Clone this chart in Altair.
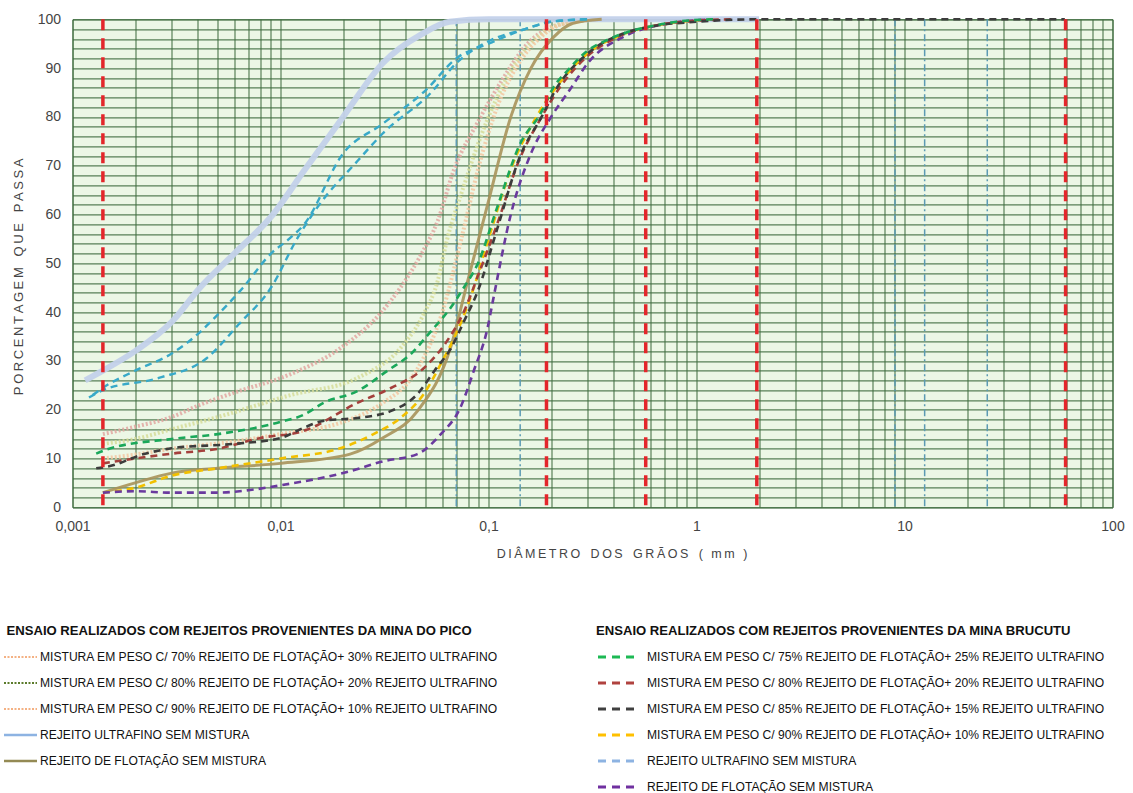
import altair as alt
import pandas as pd

W, H = 1040, 488  # plot area (px)

# ---------------------------------------------------------------------------
# Grain-size curves: diameter (mm) and percentage passing (%)
# ---------------------------------------------------------------------------
# Mina do Pico
pico_70_d = [0.0014, 0.002, 0.003, 0.0041, 0.006, 0.0112, 0.0194, 0.03, 0.0377, 0.047,
             0.057, 0.068, 0.089, 0.118, 0.154, 0.2, 0.25, 0.35]
pico_70_p = [15, 16.5, 18.5, 21, 23.5, 27.3, 32.6, 39.6, 45, 51.5, 58.7, 69, 79, 88, 95,
             98.4, 99.4, 100]

pico_80_d = [0.0014, 0.002, 0.003, 0.005, 0.0112, 0.0234, 0.0377, 0.0488, 0.057, 0.063,
             0.075, 0.09, 0.11, 0.14, 0.18, 0.25, 0.35]
pico_80_p = [13, 14, 16, 18.5, 23, 26.5, 32.6, 39.6, 46.4, 54.6, 65, 75, 84, 92, 97, 99.5, 100]

pico_90_d = [0.0014, 0.002, 0.003, 0.006, 0.01, 0.02, 0.03, 0.045, 0.06, 0.075, 0.09, 0.11,
             0.14, 0.18, 0.25, 0.35]
pico_90_p = [10, 10.8, 12, 13.5, 15, 17.5, 21, 28, 40, 56, 70, 82, 91, 96.5, 99.5, 100]

pico_ultra_d = [0.00115, 0.0014, 0.002, 0.003, 0.0041, 0.006, 0.0092, 0.013, 0.02, 0.031,
                0.048, 0.065, 0.1, 0.3, 2.0]
pico_ultra_p = [26, 28, 32, 38, 45, 52, 60, 69, 80, 91, 97, 99.5, 100, 100, 100]

pico_flot_d = [0.0014, 0.002, 0.003, 0.005, 0.01, 0.0216, 0.031, 0.0455, 0.066, 0.079,
               0.099, 0.128, 0.16, 0.205, 0.255, 0.35]
pico_flot_p = [3, 5, 7, 8, 9, 10.9, 14.2, 19.7, 33, 46, 62, 80, 90, 96.3, 99.2, 100]

# Mina Brucutu
bru_75_d = [0.0013, 0.0015, 0.003, 0.005, 0.01, 0.013, 0.0161, 0.0234, 0.0327, 0.0423,
            0.0527, 0.066, 0.076, 0.089, 0.11, 0.142, 0.178, 0.205, 0.24, 0.3, 0.37, 0.46,
            0.58, 0.8, 1.2]
bru_75_p = [11, 12, 14, 15, 17.5, 19, 21.4, 23.8, 28, 31.4, 36, 41, 45, 50, 61.4, 74.5,
            80.7, 86, 89.5, 93.6, 95.7, 97.3, 98.4, 99.5, 100]

bru_80_d = [0.0014, 0.002, 0.003, 0.005, 0.008, 0.0128, 0.0234, 0.0338, 0.0488, 0.063,
            0.076, 0.09, 0.11, 0.14, 0.18, 0.22, 0.3, 0.4, 0.6, 1.0, 1.5]
bru_80_p = [9, 10, 11, 12, 14.2, 15.6, 21.4, 24.4, 28.5, 34, 40, 48, 58, 71, 80, 86, 92.5,
            96, 98.5, 99.7, 100]

bru_85_d = [0.0013, 0.0015, 0.0022, 0.003, 0.006, 0.01, 0.0128, 0.016, 0.0234, 0.0338,
            0.0455, 0.055, 0.066, 0.076, 0.089, 0.11, 0.142, 0.18, 0.21, 0.3, 0.46, 0.6,
            1.0, 2.0, 59.0]
bru_85_p = [8, 8.4, 10.9, 12.1, 13, 14.2, 16.2, 17.7, 18.3, 19.7, 23.2, 28, 32.6, 38, 44.4,
            57, 72, 80, 85.5, 93, 97.3, 98.5, 99.5, 100, 100]

bru_90_d = [0.0014, 0.002, 0.003, 0.005, 0.01, 0.0194, 0.028, 0.0377, 0.0488, 0.06, 0.072,
            0.085, 0.1, 0.13, 0.17, 0.22, 0.3, 0.45, 0.7, 1.2]
bru_90_p = [3, 4, 6.5, 8, 10, 12.1, 15, 18.3, 23.2, 30, 36.8, 45, 55, 70, 80, 87, 93, 97,
            99, 100]

bru_ultra_a_d = [0.00125, 0.0014, 0.002, 0.003, 0.004, 0.005, 0.0066, 0.009, 0.011, 0.013,
                 0.02, 0.031, 0.05, 0.07, 0.1, 0.15, 0.2, 0.3]
bru_ultra_a_p = [23, 24.5, 28, 31.5, 35.5, 39.5, 45, 52, 55, 58, 72.5, 78.6, 85.5, 92, 95,
                 98, 99.5, 100]

bru_ultra_b_d = [0.0012, 0.0014, 0.0026, 0.0044, 0.0063, 0.009, 0.012, 0.015, 0.0235,
                 0.031, 0.053, 0.07, 0.1, 0.15, 0.2, 0.3]
bru_ultra_b_p = [22.5, 24, 26.5, 30.5, 37.5, 45, 55, 61.4, 71, 76.6, 85, 91, 95.5, 98,
                 99.5, 100]

bru_flot_d = [0.0014, 0.002, 0.003, 0.005, 0.007, 0.01, 0.0216, 0.031, 0.0455, 0.059,
              0.073, 0.085, 0.099, 0.105, 0.128, 0.16, 0.2, 0.25, 0.3, 0.45, 0.7, 1.2]
bru_flot_p = [3, 3.3, 3, 3, 3.5, 4.5, 7.4, 9.4, 10.9, 15, 20.3, 28, 36.8, 42.3, 60, 72.5,
              80, 86, 91, 96.5, 99, 100]

# Vertical reference diameters (mm)
class_limits_mm = [0.0014, 0.19, 0.57, 1.95, 59.5]
sieve_lines_mm = [0.07, 0.142, 9.0, 12.5, 25.0]

# Axis ticks
decades = [0.001, 0.01, 0.1, 1.0, 10.0, 100.0]
decade_labels = ["0,001", "0,01", "0,1", "1", "10", "100"]
y_ticks = list(range(0, 101, 2))

# Axis titles (word lists)
x_title_words = ["DIÂMETRO", "DOS", "GRÃOS", "( mm )"]
y_title_words = ["PORCENTAGEM", "QUE", "PASSA"]

# Legend text
pico_title = "ENSAIO REALIZADOS COM REJEITOS PROVENIENTES DA MINA DO PICO"
pico_items = [
    "MISTURA EM PESO C/ 70% REJEITO DE FLOTAÇÃO+ 30% REJEITO ULTRAFINO",
    "MISTURA EM PESO C/ 80% REJEITO DE FLOTAÇÃO+ 20% REJEITO ULTRAFINO",
    "MISTURA EM PESO C/ 90% REJEITO DE FLOTAÇÃO+ 10% REJEITO ULTRAFINO",
    "REJEITO ULTRAFINO SEM MISTURA",
    "REJEITO DE FLOTAÇÃO SEM MISTURA",
]
bru_title = "ENSAIO REALIZADOS COM REJEITOS PROVENIENTES DA MINA BRUCUTU"
bru_items = [
    "MISTURA EM PESO C/ 75% REJEITO DE FLOTAÇÃO+ 25% REJEITO ULTRAFINO",
    "MISTURA EM PESO C/ 80% REJEITO DE FLOTAÇÃO+ 20% REJEITO ULTRAFINO",
    "MISTURA EM PESO C/ 85% REJEITO DE FLOTAÇÃO+ 15% REJEITO ULTRAFINO",
    "MISTURA EM PESO C/ 90% REJEITO DE FLOTAÇÃO+ 10% REJEITO ULTRAFINO",
    "REJEITO ULTRAFINO SEM MISTURA",
    "REJEITO DE FLOTAÇÃO SEM MISTURA",
]

# ---------------------------------------------------------------------------
# Styles
# ---------------------------------------------------------------------------
DOT = [2, 2]
DASH = [7, 5]
curves = [
    (pico_70_d, pico_70_p, dict(color="#e2a7a1", dash=DOT, width=4, opacity=0.85)),
    (pico_80_d, pico_80_p, dict(color="#d6dc98", dash=DOT, width=4, opacity=0.85)),
    (pico_90_d, pico_90_p, dict(color="#f3c6a0", dash=DOT, width=4, opacity=0.85)),
    (pico_ultra_d, pico_ultra_p, dict(color="#c3d1ea", dash=None, width=6, opacity=0.95)),
    (pico_flot_d, pico_flot_p, dict(color="#a8925a", dash=None, width=3, opacity=0.9)),
    (bru_ultra_a_d, bru_ultra_a_p, dict(color="#38a9c8", dash=DASH, width=2.4, opacity=1)),
    (bru_ultra_b_d, bru_ultra_b_p, dict(color="#38a9c8", dash=DASH, width=2.4, opacity=1)),
    (bru_90_d, bru_90_p, dict(color="#f2c000", dash=DASH, width=2.6, opacity=1)),
    (bru_flot_d, bru_flot_p, dict(color="#6a3a9e", dash=DASH, width=2.6, opacity=1)),
    (bru_80_d, bru_80_p, dict(color="#a4403c", dash=DASH, width=2.6, opacity=1)),
    (bru_85_d, bru_85_p, dict(color="#3c3c3c", dash=DASH, width=2.6, opacity=1)),
    (bru_75_d, bru_75_p, dict(color="#1aa85a", dash=DASH, width=2.6, opacity=1)),
]

pico_legend_styles = [
    dict(color="#f4b183", dash=[2, 1.5], width=2),
    dict(color="#5b7b2b", dash=[2, 1.5], width=2),
    dict(color="#f4b183", dash=[2, 1.5], width=2),
    dict(color="#8db3e2", dash=None, width=2.5),
    dict(color="#948a54", dash=None, width=2.5),
]
bru_legend_styles = [
    dict(color="#1db954", dash=[8, 6], width=3),
    dict(color="#b0423f", dash=[8, 6], width=3),
    dict(color="#404040", dash=[8, 6], width=3),
    dict(color="#ffc000", dash=[8, 6], width=3),
    dict(color="#8db3e2", dash=[8, 6], width=3),
    dict(color="#7030a0", dash=[8, 6], width=3),
]

AXIS_FONT = "Liberation Sans"
LEGEND_FONT = "Liberation Sans"
TEXT_GRAY = "#444444"
GRID_GREEN = "#3d6b3d"

THIN, NBSP = "\u2009", "\u00a0"


def spaced(words):
    """Letter-spaced title text (SVG does not collapse these spaces)."""
    return (NBSP * 3).join(THIN.join(w.replace(" ", NBSP)) for w in words)


# ---------------------------------------------------------------------------
# Main plot (log x, linear y)
# ---------------------------------------------------------------------------
x_grid = sorted({round(m * 10.0 ** k, 6) for k in range(-3, 2) for m in range(1, 10)} | {100.0})
x_label_expr = " : ".join(
    f"datum.value == {v!r} ? '{lab}'" for v, lab in zip(decades, decade_labels)
) + " : ''"

x_axis = alt.Axis(
    values=x_grid, labelExpr=x_label_expr, grid=True, gridColor=GRID_GREEN,
    gridWidth=1.2, gridOpacity=0.85, ticks=False, tickSize=0, domain=False,
    labelPadding=12, labelFont=AXIS_FONT, labelFontSize=14, labelColor=TEXT_GRAY,
    labelOverlap=False, labelFlush=False, labelBound=False,
    title=spaced(x_title_words),
    titleFont=AXIS_FONT, titleFontSize=12.5, titleFontWeight="normal", titleColor=TEXT_GRAY,
    titleX=549, titleY=46, titleAlign="center", titleBaseline="middle",
)
y_axis = alt.Axis(
    values=y_ticks, labelExpr="datum.value % 10 == 0 ? datum.label : ''", grid=True,
    gridColor=GRID_GREEN, gridWidth=1.2, gridOpacity=0.85, ticks=False, tickSize=0,
    domain=False, labelPadding=12, labelFont=AXIS_FONT, labelFontSize=14,
    labelColor=TEXT_GRAY, labelOverlap=False, labelBound=False,
    title=spaced(y_title_words), titleFont=AXIS_FONT, titleFontSize=13,
    titleFontWeight="normal", titleColor=TEXT_GRAY, titleX=-54, titleY=257,
    titleAngle=270, titleAlign="center", titleBaseline="middle",
)

x_scale = alt.Scale(type="log", domain=[0.001, 100], nice=False)
y_scale = alt.Scale(domain=[0, 100], nice=False, zero=False)


def X():
    return alt.X("d:Q", scale=x_scale, axis=x_axis)


def Y():
    return alt.Y("p:Q", scale=y_scale, axis=y_axis)


sieve_df = pd.DataFrame({"d": sieve_lines_mm})
limit_df = pd.DataFrame({"d": class_limits_mm})

layers = []
# invisible base carrying both axes
base_df = pd.DataFrame({"d": [0.001, 100.0], "p": [0, 100]})
layers.append(alt.Chart(base_df).mark_point(opacity=0).encode(x=X(), y=Y()))

layers.append(
    alt.Chart(sieve_df).mark_rule(color="#5c9ab3", strokeWidth=1.5, strokeDash=[7, 3, 2, 3])
    .encode(x=X())
)

for d_vals, p_vals, st in curves:
    df = pd.DataFrame({"d": d_vals, "p": p_vals})
    kw = dict(color=st["color"], strokeWidth=st["width"], opacity=st["opacity"],
              interpolate="monotone", strokeCap="butt")
    if st["dash"]:
        kw["strokeDash"] = st["dash"]
    layers.append(alt.Chart(df).mark_line(**kw).encode(x=X(), y=Y()))

layers.append(
    alt.Chart(limit_df).mark_rule(color="#e3262b", strokeWidth=3.5, strokeDash=[11, 8])
    .encode(x=X())
)

plot = alt.layer(*layers)

# ---------------------------------------------------------------------------
# Legend block below the plot (pixel-identity scales, plot origin at 0,0)
# ---------------------------------------------------------------------------
ROW0, ROW_STEP = 611.7, 26.0
LEFT_HEAD_X, LEFT_LINE_X, LEFT_TEXT_X = -66.0, (-68.5, -35.5), -32.5
RIGHT_HEAD_X, RIGHT_LINE_X, RIGHT_TEXT_X = 523.5, (525.5, 561.5), 574.5

lx = alt.Scale(domain=[0, W], range=[0, W], nice=False, zero=False)
ly = alt.Scale(domain=[0, H], range=[0, H], nice=False, zero=False)

legend_layers = []
heads = pd.DataFrame({
    "x": [LEFT_HEAD_X, RIGHT_HEAD_X],
    "y": [ROW0, ROW0],
    "t": [pico_title, bru_title],
})
legend_layers.append(
    alt.Chart(heads).mark_text(align="left", baseline="middle", font=LEGEND_FONT,
                               fontSize=13.1, fontWeight="bold", color="#111111")
    .encode(x=alt.X("x:Q", scale=lx, axis=None), y=alt.Y("y:Q", scale=ly, axis=None),
            text="t:N")
)

item_rows = []
for k, txt in enumerate(pico_items, start=1):
    item_rows.append({"x": LEFT_TEXT_X, "y": ROW0 + ROW_STEP * k, "t": txt})
for k, txt in enumerate(bru_items, start=1):
    item_rows.append({"x": RIGHT_TEXT_X, "y": ROW0 + ROW_STEP * k, "t": txt})
legend_layers.append(
    alt.Chart(pd.DataFrame(item_rows)).mark_text(
        align="left", baseline="middle", font=LEGEND_FONT, fontSize=12.1, color="#111111")
    .encode(x=alt.X("x:Q", scale=lx, axis=None), y=alt.Y("y:Q", scale=ly, axis=None),
            text="t:N")
)

for col_line, styles in ((LEFT_LINE_X, pico_legend_styles), (RIGHT_LINE_X, bru_legend_styles)):
    for k, st in enumerate(styles, start=1):
        df = pd.DataFrame({"x": [col_line[0]], "x2": [col_line[1]], "y": [ROW0 + ROW_STEP * k]})
        kw = dict(color=st["color"], strokeWidth=st["width"])
        if st["dash"]:
            kw["strokeDash"] = st["dash"]
        legend_layers.append(
            alt.Chart(df).mark_rule(**kw).encode(
                x=alt.X("x:Q", scale=lx, axis=None), x2="x2:Q",
                y=alt.Y("y:Q", scale=ly, axis=None))
        )

legend = alt.layer(*legend_layers)

chart = (
    alt.layer(plot, legend)
    .resolve_scale(x="independent", y="independent")
    .properties(
        width=W, height=H,
        autosize=alt.AutoSizeParams(type="none"),
        padding={"left": 72.5, "top": 19.3, "right": 1133 - 72.5 - W,
                 "bottom": 793 - 19.3 - H},
        background="white",
    )
    .configure_view(fill="#ecf7e6", stroke="#3d6b3d", strokeWidth=1)
)

chart.save("out.html", embed_options={"renderer": "svg", "actions": False})
